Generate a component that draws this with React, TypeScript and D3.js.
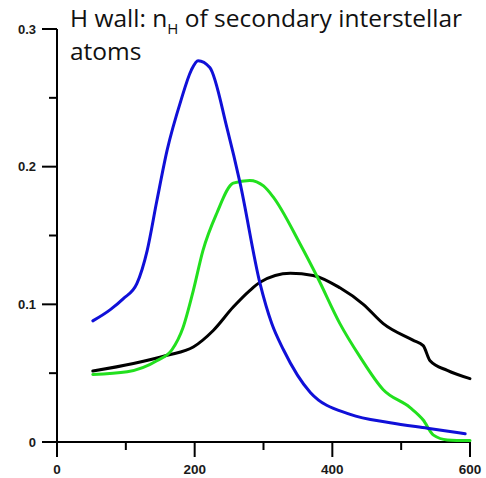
import * as d3 from 'd3';

// distance values (x) and densities (y)
const blueX = [52, 77, 96, 116, 131, 145, 160, 180, 195, 205, 222, 247, 266, 295, 312, 329, 368, 426, 484, 538, 593];
const blueY = [0.088, 0.096, 0.104, 0.115, 0.139, 0.175, 0.212, 0.248, 0.270, 0.277, 0.272, 0.228, 0.188, 0.115, 0.086, 0.067, 0.036, 0.020, 0.014, 0.010, 0.006];

const greenX = [52, 102, 145, 167, 183, 198, 212, 232, 256, 280, 300, 314, 353, 378, 411, 440, 474, 513, 532, 547, 567, 600];
const greenY = [0.049, 0.051, 0.059, 0.067, 0.083, 0.110, 0.139, 0.166, 0.188, 0.190, 0.186, 0.178, 0.144, 0.120, 0.086, 0.062, 0.038, 0.025, 0.016, 0.005, 0.0015, 0.001];

const blackX = [52, 111, 160, 198, 227, 256, 280, 295, 339, 372, 411, 445, 474, 517, 532, 542, 567, 600];
const blackY = [0.0515, 0.057, 0.063, 0.069, 0.081, 0.098, 0.110, 0.116, 0.1225, 0.121, 0.112, 0.100, 0.086, 0.074, 0.070, 0.059, 0.052, 0.046];

const xMajor = [0, 200, 400, 600];
const xMinor = [100, 300, 500];
const yMajor = [0, 0.1, 0.2, 0.3];
const yMinor = [0.05, 0.15, 0.25];

const W = 486;
const H = 478;

export default function App() {
  const x = d3.scaleLinear().domain([0, 600]).range([57, 470]);
  const y = d3.scaleLinear().domain([0, 0.3]).range([442, 29]);

  const line = d3.line<[number, number]>()
    .x(d => x(d[0]))
    .y(d => y(d[1]))
    .curve(d3.curveMonotoneX);

  const series = [
    { xs: blackX, ys: blackY, color: '#000000' },
    { xs: greenX, ys: greenY, color: '#22e01e' },
    { xs: blueX, ys: blueY, color: '#1010d8' },
  ];

  const tickFont = { fontFamily: 'Liberation Sans, Arial, sans-serif', fontWeight: 700, fill: '#1a1a1a' };

  return (
    <div style={{ position: 'absolute', left: 0, top: 0 }}>
      <svg width={W} height={H} style={{ display: 'block', background: '#fff' }}>
        {/* axes */}
        <line x1={x(0)} x2={x(0)} y1={y(0.3)} y2={457} stroke="#000" strokeWidth={2} />
        <line x1={42} x2={x(600)} y1={y(0)} y2={y(0)} stroke="#000" strokeWidth={2} />

        {yMajor.map(v => (
          <g key={'ym' + v}>
            <line x1={42} x2={x(0)} y1={y(v)} y2={y(v)} stroke="#000" strokeWidth={2} />
            <text x={36} y={y(v)} dy="0.35em" textAnchor="end" fontSize={13} {...tickFont}>
              {v === 0 ? '0' : v.toFixed(1)}
            </text>
          </g>
        ))}
        {yMinor.map(v => (
          <line key={'yn' + v} x1={49} x2={x(0)} y1={y(v)} y2={y(v)} stroke="#000" strokeWidth={2} />
        ))}

        {xMajor.map(v => (
          <g key={'xm' + v}>
            <line x1={x(v)} x2={x(v)} y1={y(0)} y2={457} stroke="#000" strokeWidth={2} />
            <text x={x(v)} y={474} textAnchor="middle" fontSize={13.5} {...tickFont}>{v}</text>
          </g>
        ))}
        {xMinor.map(v => (
          <line key={'xn' + v} x1={x(v)} x2={x(v)} y1={y(0)} y2={450} stroke="#000" strokeWidth={2} />
        ))}

        {/* curves */}
        {series.map((s, i) => (
          <path
            key={i}
            d={line(s.xs.map((xv, j) => [xv, s.ys[j]] as [number, number])) ?? ''}
            fill="none"
            stroke={s.color}
            strokeWidth={3}
            strokeLinejoin="round"
            strokeLinecap="round"
          />
        ))}

        {/* title */}
        <text x={70} y={27} fontSize={24.5} fontFamily="Open Sans, sans-serif" fill="#111">
          H wall: n<tspan fontSize={15} dy={7}>H</tspan><tspan dy={-7}> of secondary interstellar</tspan>
        </text>
        <text x={70} y={60} fontSize={24.5} fontFamily="Open Sans, sans-serif" fill="#111">atoms</text>
      </svg>
    </div>
  );
}
